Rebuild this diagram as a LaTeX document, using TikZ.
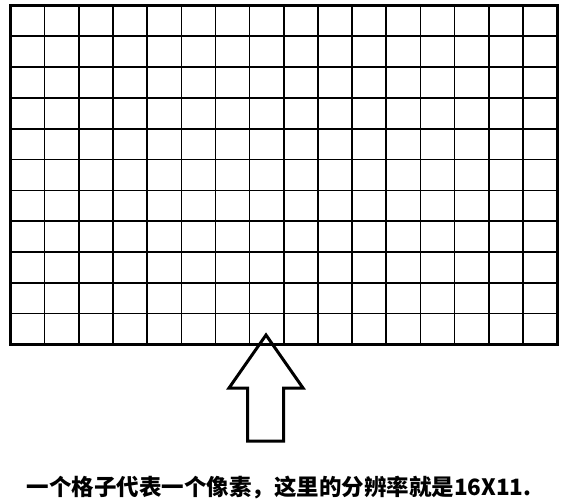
\documentclass[tikz,border=0pt]{standalone}
\usepackage{fontspec}
\newfontfamily\cjk{Noto Sans CJK SC}
\usetikzlibrary{positioning}

\begin{document}
\begin{tikzpicture}[x=1pt, y=-1pt, line join=miter]

    \useasboundingbox (0, 0) rectangle (561, 503);

    % grid
    \foreach \i in {1, ..., 15} {
      \draw [line width=1.6pt] ({10.5 + \i*34.16}, 5.5) -- ({10.5 + \i*34.16}, 344.3);
    }
    \foreach \j in {1, ..., 10} {
      \draw [line width=1.6pt] (10.5, {5.5 + \j*30.8}) -- (557, {5.5 + \j*30.8});
    }
    \draw [line width=3pt] (10.5, 5.5) rectangle (557, 344.3);

    % arrow
    \draw [line width=3pt] (266, 335) -- (303, 388) -- (283.5, 388)
      -- (283.5, 441) -- (247.5, 441) -- (247.5, 388)
      -- (229, 388) -- cycle;

    % caption
    \node [font={\cjk\bfseries\fontsize{22.5pt}{26pt}\selectfont}, anchor=base]
      (caption) at (279, 495) {一个格子代表一个像素，这里的分辨率就是16X11.};

\end{tikzpicture}
\end{document}
